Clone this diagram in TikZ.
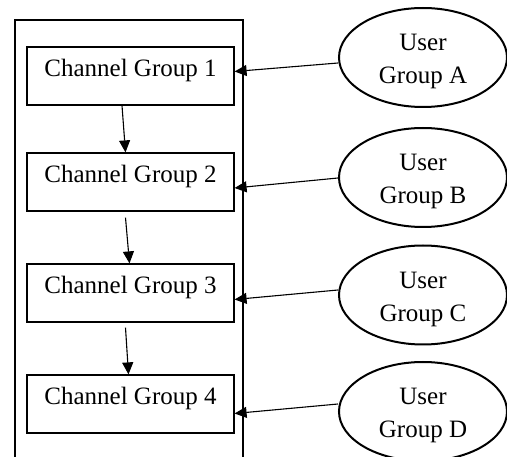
\documentclass[tikz,border=0pt]{standalone}
\usepackage{fontspec}
\setmainfont{Liberation Serif}
\usetikzlibrary{shapes.geometric,arrows.meta}

\begin{document}
\begin{tikzpicture}[x=1pt, y=-1pt,
  chbox/.style={draw, line width=1.2pt, minimum width=207pt, minimum height=58pt,
    inner sep=0pt, text height=18pt, text depth=17pt},
  usr/.style={draw, ellipse, line width=2pt, minimum width=168pt, minimum height=99pt,
    inner sep=0pt, align=center},
  arr/.style={line width=1.1pt, -{Triangle[length=12pt, width=11pt]}}]
\useasboundingbox (0,0) rectangle (507,457);
\fontsize{25}{33}\selectfont

\draw[line width=1.2pt] (15,20) rectangle (243,480);

\node[chbox] (G1) at (130.5,76) {Channel Group 1};
\node[chbox] (G2) at (130.5,182) {Channel Group 2};
\node[chbox] (G3) at (130.5,293) {Channel Group 3};
\node[chbox] (G4) at (130.5,404) {Channel Group 4};

\node[usr] (UA) at (423,57.5) {\rule{0pt}{25pt}User\\Group A};
\node[usr] (UB) at (423,177.5) {\rule{0pt}{25pt}User\\Group B};
\node[usr] (UC) at (423,295) {\rule{0pt}{25pt}User\\Group C};
\node[usr] (UD) at (423,411.5) {\rule{0pt}{25pt}User\\Group D};

\draw[arr] ([xshift=-8.5pt]G1.south) -- ([xshift=-5pt]G2.north);
\draw[arr] ([xshift=-5pt,yshift=-6pt]G2.south) -- ([xshift=-1pt]G3.north);
\draw[arr] ([xshift=-5pt,yshift=-5pt]G3.south) -- ([xshift=-2pt]G4.north);

\draw[arr] ([yshift=-5.5pt]UA.west) -- ([yshift=4.5pt]G1.east);
\draw[arr] ([yshift=-0.5pt]UB.west) -- ([yshift=-6pt]G2.east);
\draw[arr] ([yshift=5pt]UC.west) -- ([yshift=-6.5pt]G3.east);
\draw[arr] ([yshift=7.5pt]UD.west) -- ([yshift=-9.5pt]G4.east);
\end{tikzpicture}
\end{document}
